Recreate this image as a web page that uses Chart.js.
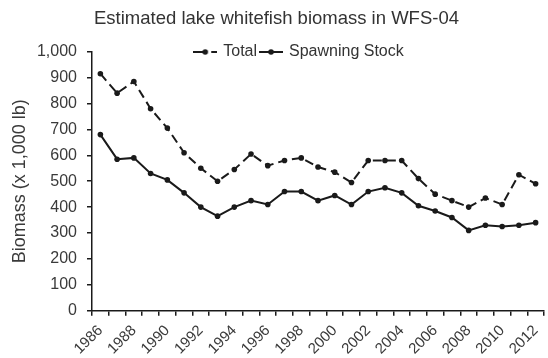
<!DOCTYPE html>
<html><head><meta charset="utf-8">
<script src="https://cdn.jsdelivr.net/npm/chart.js@4.4.1/dist/chart.umd.min.js"></script>
<style>html,body{margin:0;padding:0;background:#fff;}#wrap{width:548px;height:358px;}</style>
</head><body><div id="wrap"><canvas id="c" width="548" height="358"></canvas></div>
<script>
const years = ['1986','1987','1988','1989','1990','1991','1992','1993','1994','1995','1996','1997','1998','1999','2000','2001','2002','2003','2004','2005','2006','2007','2008','2009','2010','2011','2012'];
const totalBiomass = [915, 840, 885, 780, 705, 610, 550, 500, 545, 605, 560, 580, 590, 555, 535, 495, 580, 580, 580, 510, 450, 425, 400, 435, 410, 525, 490];
const spawningStock = [680, 585, 590, 530, 505, 455, 400, 365, 400, 425, 410, 460, 460, 425, 445, 410, 460, 475, 455, 405, 385, 360, 310, 330, 325, 330, 340];
const xTickLabels = ['1986','1988','1990','1992','1994','1996','1998','2000','2002','2004','2006','2008','2010','2012'];
const seriesNames = ['Total', 'Spawning Stock'];

const FONT = "'Liberation Sans', Arial, sans-serif";
const INK = '#1a1a1a';
const TXT = '#3a3a3a';

function legendSample(dashed) {
  const cv = document.createElement('canvas');
  cv.width = 24; cv.height = 8;
  const g = cv.getContext('2d');
  g.strokeStyle = INK; g.lineWidth = 2;
  g.beginPath();
  if (dashed) { g.moveTo(0, 4); g.lineTo(10, 4); g.moveTo(18, 4); g.lineTo(24, 4); }
  else { g.moveTo(0, 4); g.lineTo(24, 4); }
  g.stroke();
  g.fillStyle = INK;
  g.beginPath(); g.arc(12, 4, 2.8, 0, Math.PI * 2); g.fill();
  return cv;
}
const samples = [legendSample(true), legendSample(false)];

const layoutTweak = {
  id: 'layoutTweak',
  beforeLayout(chart) {
    const lg = chart.legend;
    if (lg && !lg._patched) {
      const fit = lg.fit;
      lg.fit = function () { fit.call(this); this.height = 21.3; };
      lg._patched = true;
    }
  },
  afterLayout(chart) {
    const lg = chart.legend;
    if (lg) {
      lg.left += 23; lg.right += 23;
      lg.top = 40; lg.bottom = 40 + 30; lg.height = 30;
    }
  }
};

new Chart(document.getElementById('c'), {
  type: 'line',
  data: {
    labels: years,
    datasets: [
      { label: seriesNames[0], data: totalBiomass, borderColor: INK, backgroundColor: INK,
        borderWidth: 2, borderDash: [9, 5], pointRadius: 2.8, pointBackgroundColor: INK,
        pointBorderWidth: 0, tension: 0, fill: false },
      { label: seriesNames[1], data: spawningStock, borderColor: INK, backgroundColor: INK,
        borderWidth: 2, pointRadius: 2.8, pointBackgroundColor: INK,
        pointBorderWidth: 0, tension: 0, fill: false }
    ]
  },
  options: {
    responsive: false,
    devicePixelRatio: 1,
    animation: false,
    layout: { padding: { left: 2, right: -3, top: 0, bottom: 0 } },
    plugins: {
      title: { display: true, text: 'Estimated lake whitefish biomass in WFS-04',
        color: '#333', font: { family: FONT, size: 18.5, weight: 'normal' },
        padding: { top: 8.2, bottom: 0 } },
      legend: {
        display: true, position: 'top',
        labels: {
          color: '#333', font: { family: FONT, size: 16 }, padding: 4,
          usePointStyle: true, pointStyleWidth: 20,
          generateLabels(chart) {
            return chart.data.datasets.map((ds, i) => ({
              text: ds.label, pointStyle: samples[i], datasetIndex: i,
              fillStyle: INK, strokeStyle: INK, lineWidth: 0, hidden: false, fontColor: '#333'
            }));
          }
        }
      },
      tooltip: { enabled: false }
    },
    scales: {
      x: {
        type: 'category', offset: true,
        border: { display: true, color: INK, width: 1.5 },
        grid: { display: true, offset: true, drawOnChartArea: false, drawTicks: true, tickLength: 5, color: INK, lineWidth: 1.5 },
        ticks: { autoSkip: false, maxRotation: 45, minRotation: 45, padding: 6, color: TXT,
          font: { family: FONT, size: 15 },
          callback(v) { const l = this.getLabelForValue(v); return xTickLabels.includes(l) ? l : ''; } },
        afterFit(scale) { scale.height = 47.3; scale.paddingLeft = 0; scale.paddingRight = 0; }
      },
      y: {
        min: 0, max: 1000,
        border: { display: true, color: INK, width: 1.5 },
        grid: { display: true, drawOnChartArea: false, drawTicks: true, tickLength: 5, color: INK, lineWidth: 1.5 },
        ticks: { stepSize: 100, padding: 10, color: TXT, font: { family: FONT, size: 16 } },
        title: { display: true, text: 'Biomass (x 1,000 lb)', color: TXT,
          font: { family: FONT, size: 18 }, padding: { top: 7.2, bottom: 6.2 } },
        afterFit(scale) { scale.width = 90; scale.paddingTop = 0; scale.paddingBottom = 0; }
      }
    }
  },
  plugins: [layoutTweak]
});
</script></body></html>
